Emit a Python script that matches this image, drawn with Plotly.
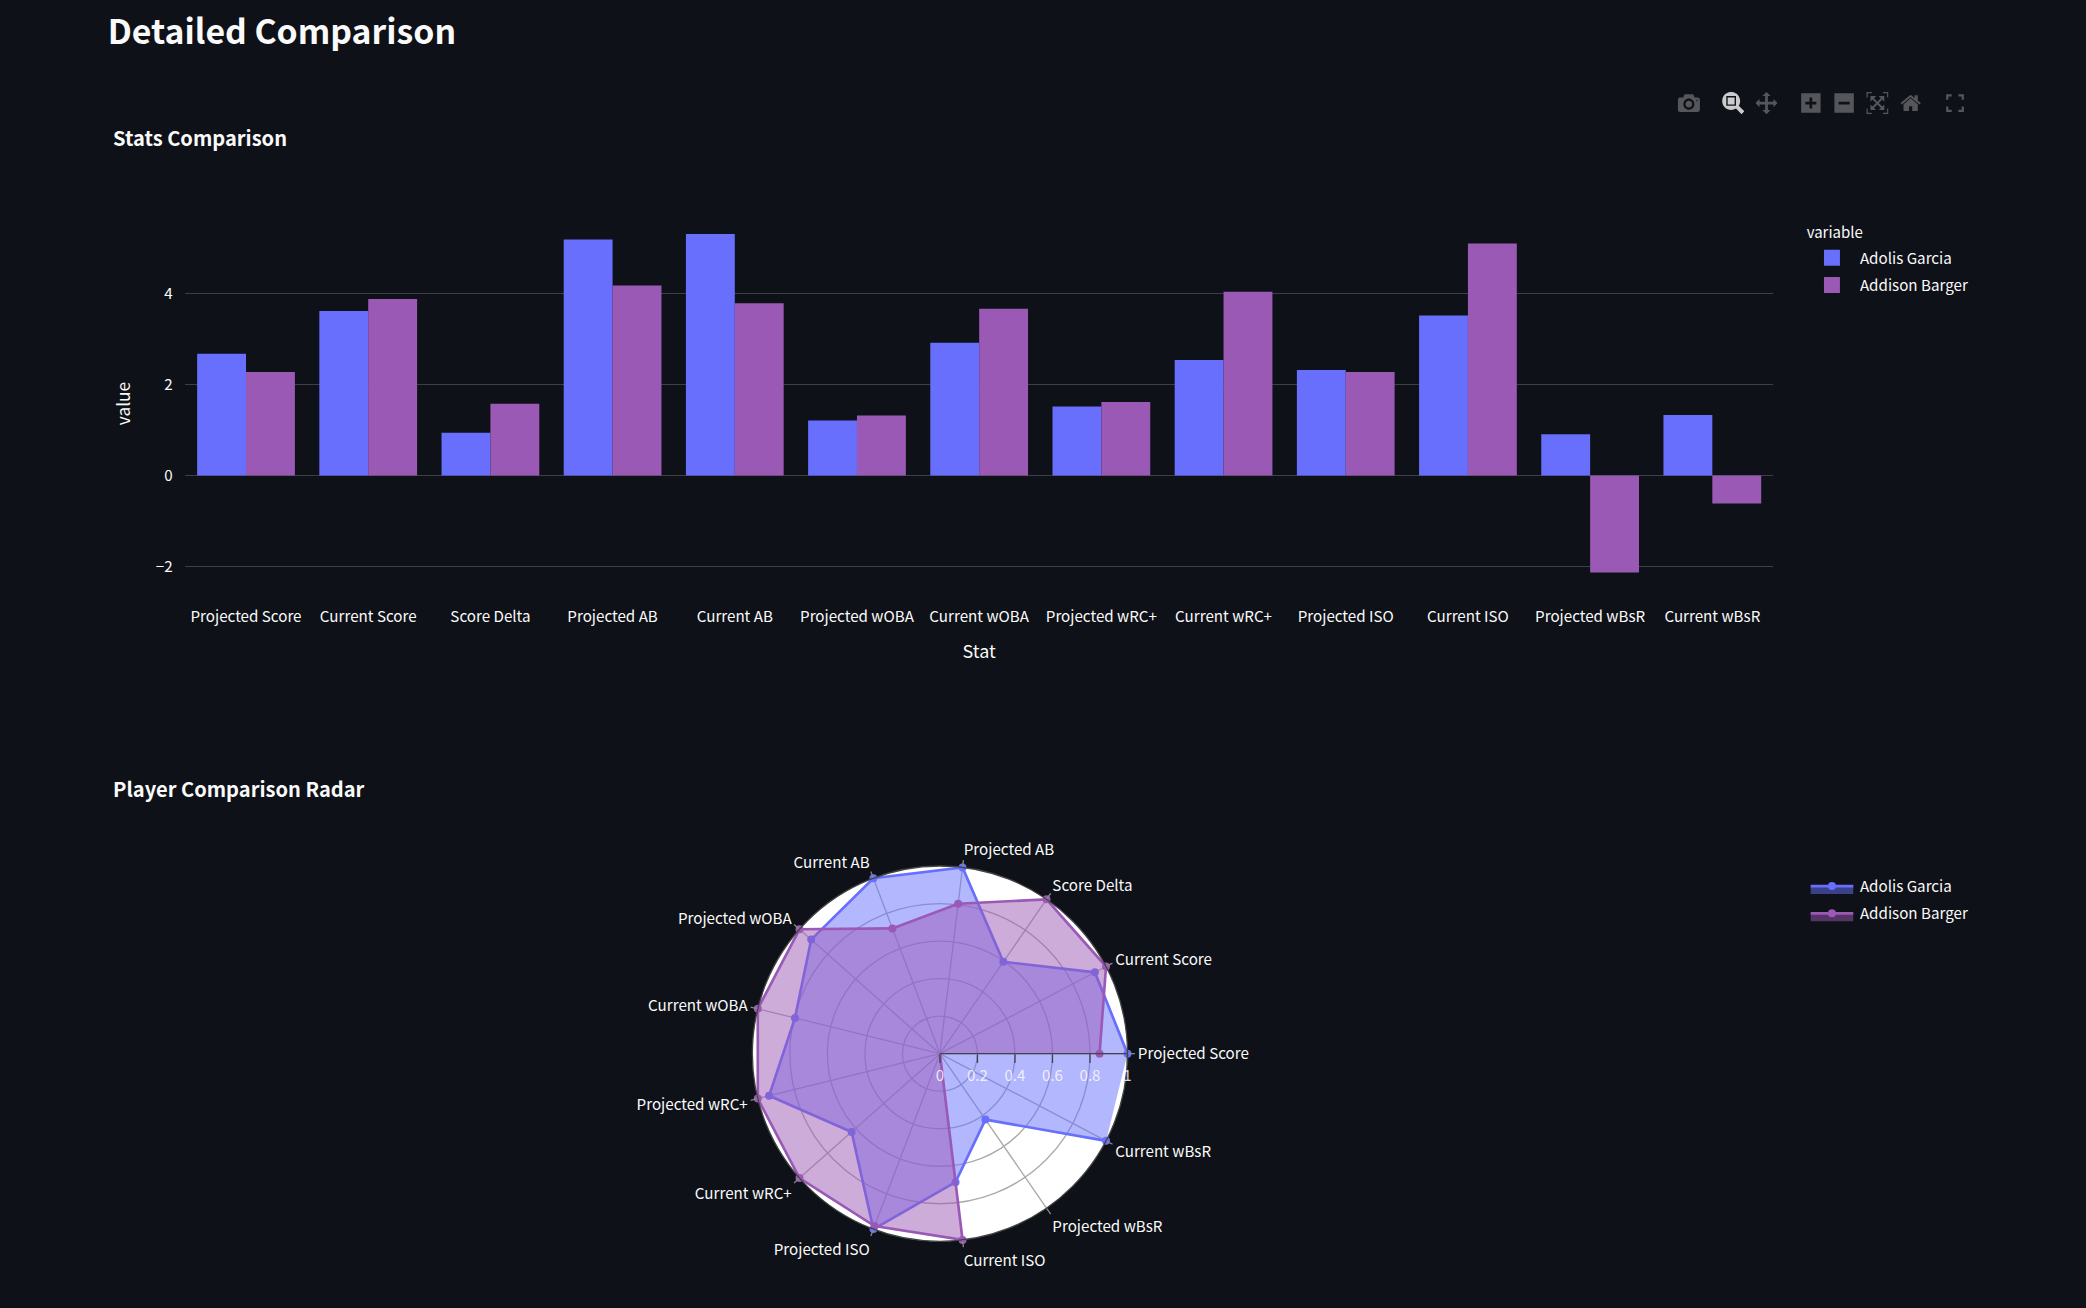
"""
Detailed comparison page: grouped bar of stats plus a radar of the same stats.
"""
import plotly.graph_objects as go

stats = ["Projected Score", "Current Score", "Score Delta", "Projected AB", "Current AB",
         "Projected wOBA", "Current wOBA", "Projected wRC+", "Current wRC+",
         "Projected ISO", "Current ISO", "Projected wBsR", "Current wBsR"]

garcia_z = [2.68, 3.62, 0.94, 5.19, 5.31, 1.21, 2.92, 1.52, 2.54, 2.32, 3.52, 0.91, 1.33]
barger_z = [2.28, 3.88, 1.58, 4.18, 3.79, 1.32, 3.67, 1.62, 4.04, 2.28, 5.10, -2.13, -0.61]

# radar is each stat scaled by the larger of the two players, wBsR goes negative for Barger
garcia_radar = [1.0, 0.933, 0.595, 1.0, 1.0, 0.917, 0.796, 0.938, 0.629, 1.0, 0.69, 0.427, 1.0]
barger_radar = [0.851, 1.0, 1.0, 0.805, 0.714, 1.0, 1.0, 1.0, 1.0, 0.983, 1.0, -1.0, -0.459]

BG = "#0E1117"
TXT = "#FAFAFA"
BLUE = "#686FFD"
PURPLE = "#9B59B6"
FONT = "Noto Sans CJK SC"
W, H = 1568, 983
SCALE = 2086 / W
TICK = 11.4
CLEAR = "rgba(0,0,0,0)"


def px(x):
    return x / W


def py(y):
    return 1 - y / H


fig = go.Figure()
fig.add_trace(go.Bar(x=stats, y=garcia_z, name="Adolis Garcia", marker=dict(color=BLUE, line_width=0),
                     legend="legend", legendgroup="bar_a"))
fig.add_trace(go.Bar(x=stats, y=barger_z, name="Addison Barger", marker=dict(color=PURPLE, line_width=0),
                     legend="legend", legendgroup="bar_b"))
for name, vals, col, grp in [("Adolis Garcia", garcia_radar, BLUE, "radar_a"),
                             ("Addison Barger", barger_radar, PURPLE, "radar_b")]:
    fig.add_trace(go.Scatterpolar(r=vals, theta=stats, name=name, mode="lines+markers", fill="toself",
                                  line=dict(color=col, width=2), marker=dict(color=col, size=6),
                                  legend="legend2", legendgroup=grp))

titles = [("Detailed Comparison", 79, 22.5, 25.4, 600),
          ("Stats Comparison", 82.5, 103.3, 15.1, 700),
          ("Player Comparison Radar", 82.5, 591.7, 15.1, 700)]
annos = [dict(text=t, x=px(x), y=py(y), xref="paper", yref="paper", xanchor="left", yanchor="middle",
              showarrow=False, font=dict(size=s, weight=wt, color=TXT, family=FONT))
         for t, x, y, s, wt in titles]

fig.update_layout(
    width=W, height=H, autosize=False, margin=dict(l=0, r=0, t=0, b=0),
    paper_bgcolor=BG, plot_bgcolor=BG, font=dict(family=FONT, size=TICK, color=TXT),
    barmode="group", dragmode="zoom", annotations=annos,
    xaxis=dict(domain=[px(139), px(1333)], title=dict(text="Stat", font=dict(size=13.5)),
               showgrid=False, zeroline=False, ticks="outside", ticklen=10, tickcolor=CLEAR),
    yaxis=dict(domain=[py(443), py(163.6)], range=[-2.5, 5.67], title=dict(text="value", font=dict(size=13)),
               dtick=2, gridcolor="rgba(250,250,250,0.2)", zerolinecolor="rgba(250,250,250,0.2)",
               zerolinewidth=1, tickformat="d", ticks="outside", ticklen=8, tickcolor=CLEAR,
               ticklabelstandoff=-2),
    polar=dict(
        domain=dict(x=[px(565.5), px(847.5)], y=[py(933), py(651)]),
        bgcolor="white",
        radialaxis=dict(range=[0, 1], dtick=0.2, gridcolor="#aaaaaa", linecolor="#444444", ticks="outside",
                        ticklen=6.5, tickcolor="#444444", tickfont=dict(color="rgba(250,250,250,0.85)")),
        angularaxis=dict(gridcolor="#aaaaaa", linecolor="#444444", ticks="outside", tickcolor="#888888",
                         tickfont=dict(color=TXT)),
    ),
    legend=dict(x=px(1356), y=py(164.5), xanchor="left", yanchor="top", itemwidth=32, tracegroupgap=1.5,
                title=dict(text="variable", font=dict(size=11.3)), bgcolor=CLEAR),
    legend2=dict(x=px(1356), y=py(651.5), xanchor="left", yanchor="top", itemwidth=32, tracegroupgap=1.5,
                 bgcolor=CLEAR),
    modebar=dict(bgcolor=CLEAR, color="rgba(250,250,250,0.3)", activecolor="rgba(250,250,250,0.8)"),
)

config = dict(displayModeBar=True, displaylogo=False)

# modebar button needs a real js click handler, so it goes in from the page script
page_js = """
var st = document.createElement('style');
st.textContent = "html,body{margin:0;background:%s;overflow:hidden}"
  + ".js-plotly-plot .plotly .modebar{top:66px!important;right:86.5px!important;"
  + "transform:scale(1.042);transform-origin:right top}";
document.head.appendChild(st);
var gd = document.getElementById('{plot_id}');
gd.style.transformOrigin = '0 0';
gd.style.transform = 'scale(%.4f)';
var fs = {name: 'Fullscreen', click: function() {}, icon: {width: 1000, height: 1000,
  path: 'M100 100H350V200H200V350H100ZM650 100H900V350H800V200H650ZM100 650H200V800H350V900H100ZM800 650H900V900H650V800H800Z'}};
return Plotly.react(gd, gd.data, gd.layout, {displayModeBar: true, displaylogo: false,
  modeBarButtons: [['toImage'], ['zoom2d', 'pan2d'],
                   ['zoomIn2d', 'zoomOut2d', 'autoScale2d', 'resetScale2d'], [fs]]});
""" % (BG, SCALE)

fig.write_html("out.html", config=config, post_script=page_js)
